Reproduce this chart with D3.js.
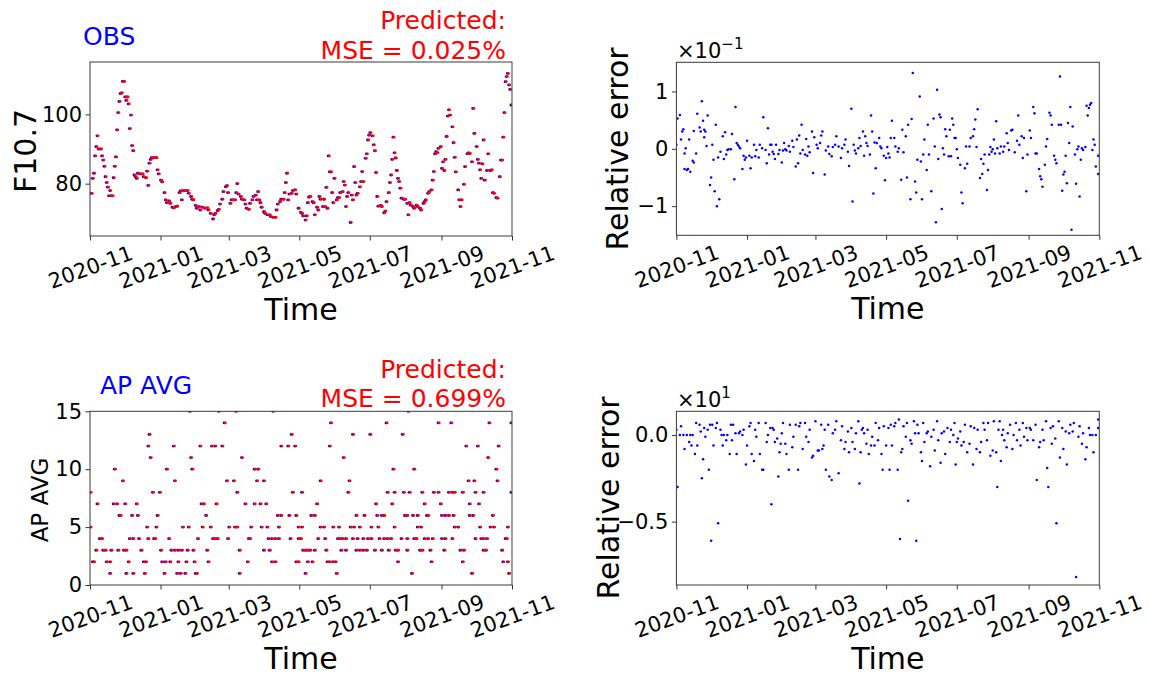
<!DOCTYPE html>
<html><head><meta charset="utf-8">
<script src="https://cdn.jsdelivr.net/npm/d3@7"></script>
<style>body{margin:0;background:#fff}svg{display:block}text{font-family:"DejaVu Sans",sans-serif}</style>
</head><body><svg id="c" width="1150" height="677"></svg>
<script>
// ---------- DATA ----------
// day offsets from 2020-11-01
const f107Day = [1,2,3,4,5,6,7,9,10,11, 12,13,14,15,16,17,18,19,20,21, 22,23,24,25,26,27,28,29,30,31,
 32,33,34,35,36,37,38,39,40,41, 43,45,46,48,49,50,51,52,53,55, 57,58,59,61,62,64,65,66,68,69,
 71,72,74,75,77,78,79,80,82,84, 85,87,88,89,91,92,94,95,97,99, 101,102,104,106,107,108,110,111,112,114,
 115,117,118,119,121,122,123,125,126,127, 128,130,131,133,134,135,137,138,140,141, 143,144,145,146,147,148,150,151,153,155,
 156,158,160,161,162,164,165,167,168,169, 170,171,172,174,175,177,178,180,182,183, 184,186,187,188,189,190,192,193,194,196,
 197,198,199,201,202,203,204,205,206,207, 208,209,210,211,213,214,215,216,218,219, 220,221,222,223,225,226,227,228,229,230,
 231,233,234,235,236,238,239,240,241,242, 244,245,246,247,248,249,251,252,254,255, 256,258,259,260,261,262,263,264,265,266,
 267,268,269,271,272,274,275,276,277,279, 280,282,283,285,286,288,289,290,292,293, 295,296,297,298,299,300,301,303,304,305,
 306,307,308,309,310,311,313,314,315,316, 318,319,320,321,323,324,326,327,328,330, 331,332,334,335,336,337,338,339,340,341,
 343,344,346,347,348,349,351,352,354,355, 356,357,358,359,360,361,362,363,364];
const f107Obs = [77.2,81.5,83,88,90.7,93.8,90,90,88,86.8, 85,82,80.3,79,76.5,78,76.5,76.5,81.7,85, 87.7,95.5,100.5,103.7,106,106.2,109.5,109.5,105,104,
 105,103,95.9,99.8,91,89.5,82.5,82,81.5,83, 82.8,82.8,82,81.7,83.6,79.5,85.9,87,87.5,87.5, 87.5,84,82.8,81,80.5,77.4,75.3,74.5,75,74.3,
 73.2,73,73.4,73.5,77.4,77.9,75.3,78,78,78, 77.2,76.3,75.5,75.3,73.7,72.9,73.4,72.4,73.2,72.9, 73,72.4,71.4,69.8,71,71.4,72.2,72.6,74.1,75.5,
 77.7,79.1,79.4,77.4,74.3,75.3,75.3,75.3,77.4,80, 77,76.3,75.5,75.3,74.1,72.9,72.6,74.3,75.3,76.3, 76.7,75.3,77.7,75.3,74.5,73.2,71.9,71.4,71,71,
 70.5,70.3,70.3,72.4,74.1,74.8,75.5,75.5,77.4,80.3, 83,75.3,77,77.2,78,78.2,77,72.9,71.7,71.4, 70.7,69.5,70.7,74.5,76.1,76.3,74.8,74.5,71,73.2,
 72.4,76.3,75.5,73.4,75.5,73.4,78.9,72.9,88,83.4, 83.4,77.4,74.5,81.5,75.3,76,76,77.4,77.7,80.6, 79.6,73.4,76.3,77.4,68.8,76.7,75.3,84.9,80.3,76.7,
 77.2,79.1,80.6,83.5,80.6,87.3,88.6,92.6,94,94.7, 93.8,91.2,89.5,83.2,76.3,73.5,73.7,73.4,71.6,72.1, 74.8,77.4,80.3,82.5,87,93.4,88.9,87.4,83.8,81.5,
 80.6,78.7,75.8,75.5,75.5,74.3,71,74.5,73.8,73.4, 72.9,73.8,73.4,72.9,72.4,74.3,74.8,75.3,77.2,77.7, 78.2,81,83.5,88.6,89.2,88.9,90.2,90.7,84.4,86.3,
 83.8,87,93.6,99.5,101.3,99.8,96.4,91.8,87.6,83.4, 78.2,75.3,73.4,75.3,79.8,84.9,88.6,88.9,88.7,86.3, 101.7,94.5,90.7,87,85.9,84,81.5,85.7,92.6,81,
 83.8,88.6,83.8,84,77.4,77.2,76,75.8,82,86.8, 86.8,93.4,100.5,109.4,110.9,111.8,108.5,107.2,102.7];
const f107Pred = f107Obs;          // red markers coincide with the blue ones in the picture
const predLagDays = 1;             // predicted markers sit one day to the right

const errF107Day = [0,1,3,4,5,6,7,7,8,9, 10,11,12,14,15,15,17,18,20,21, 22,23,24,24,25,26,27,29,30,31, 32,33,34,35,36,37,38,40,41,42,
 43,44,45,47,48,50,51,52,53,54, 55,57,58,59,60,61,63,64,65,67, 68,69,71,72,74,75,77,78,79,80, 81,82,83,84,85,86,88,89,91,92,
 93,94,95,97,98,100,101,103,104,105, 106,107,108,109,111,112,113,114,115,117, 118,119,121,122,124,125,126,128,129,131,
 132,134,135,137,138,140,142,143,145,146, 148,149,151,152,153,154,155,157,158,159, 161,162,163,164,165,167,168,169,170,171,
 172,173,175,176,177,179,180,181,182,183, 184,185,186,188,189,191,192,194,195,196, 198,199,200,202,203,204,206,207,208,210,
 211,212,213,214,216,217,218,220,222,223, 224,225,226,227,228,229,230,231,232,233, 235,236,237,238,239,240,241,242,243,245,
 246,247,249,250,251,253,254,256,257,258, 259,260,262,263,264,265,266,268,269,270, 271,272,273,274,275,276,277,279,280,282,
 283,285,286,287,289,290,292,294,295,296, 298,299,300,302,303,305,306,308,309,310, 311,313,314,315,316,318,319,320,322,323,
 324,326,327,328,330,331,332,333,334,335, 336,337,338,339,340,341,342,344,345,346, 347,348,349,350,351,353,354,355,356,357,
 358,359,360,361,362,364,364];
const errF107 = [.007,.053,.059,.016,.030,.034,-.035,-.008,.001,-.037, -.035,.016,-.040,-.021,-.024,.031,-.008,.061,.037,.030,
 .083,.049,.033,.020,.030,.005,.058,-.063,-.050,.007, -.019,-.074,.042,-.100,-.015,-.088,-.005,.022,-.018,.029,
 -.010,-.002,-.001,-.001,.026,-.053,.073,.010,.007,.004, .001,-.035,-.012,-.019,-.015,.014,-.012,-.034,-.015,.007,
 -.013,-.002,-.015,.007,.001,.055,-.002,-.025,.036,-.010, .007,.007,-.005,-.009,-.018,.007,-.009,-.002,-.024,-.003,
 .010,-.001,-.003,.005,-.005,.014,.003,-.031,.016,-.025, .023,-.008,.042,-.002,-.010,.017,-.012,.004,-.006,.030,
 -.042,.020,.007,.001,.010,.023,.030,-.045,-.003,.004, -.009,-.013,.003,.007,.022,.004,-.016,.001,.007,.016,
 -.005,-.030,.070,-.092,.007,-.003,-.008,.001,.019,.005, .030,-.012,.022,.010,.005,-.010,.058,.030,-.078,.011,
 -.034,.010,.019,.004,.001,-.012,-.055,-.016,.003,-.008, -.015,.019,.049,.019,.004,-.005,.001,-.054,.033,-.006,
 .022,-.050,.042,-.088,.052,.132,-.057,-.076,-.019,.091, -.022,-.088,-.010,.016,-.037,.042,-.010,-.074,.053,.004,
 -.128,.103,-.018,.060,.055,-.105,.001,-.010,.034,.022, -.013,.033,-.013,.053,.042,.019,.019,-.001,-.016,-.028,
 -.076,-.095,-.034,.004,-.026,.004,.019,.022,.034,.051, .003,.069,-.051,-.018,-.044,-.026,-.010,-.072,-.037,-.010,
 .003,-.005,-.001,.016,-.008,.048,.001,-.008,.004,-.005, .004,.027,.010,-.002,.032,.033,-.006,.014,.058,.007,
 .022,-.016,.019,-.074,-.010,.032,.019,.073,.062,-.008, -.008,-.035,-.048,-.053,-.066,-.028,.004,.017,.063,.058,
 .042,-.012,-.019,-.025,.042,.126,.042,-.073,-.045,-.040, -.012,-.060,.045,.010,.073,-.141,.039,-.010,-.061,-.001,
 .004,-.083,-.019,.001,-.002,.003,.075,.058,.071,.077, .080,-.002,.016,.007,-.031,-.012,-.044];

// AP AVG: for each level, the days on which it was observed
const apLevels = [15,14,13,12,11,10,9,8,7,6,5,4,3,2,1];
const apDays = [
 [86,111,126,158,275],
 [116,208,256,301,312,345,364],
 [51,174,227,242,270],
 [50,72,95,105,108,114,165,171,177,207,325,335,353],
 [52,87,131,219,344],
 [21,66,88,142,145,262,280,351],
 [28,73,118,124,144,150,199,224,327,332,352],
 [0,54,60,127,175,183,223,257,263,271,276,287,297,301,310,313,315,322,333,340,364],
 [6,20,23,30,40,96,98,109,134,142,147,152,196,247,261,289,303,328,336],
 [25,26,36,41,58,100,162,165,172,178,191,194,230,237,248,252,254,272,274,279,283,291,292,304,307,310,314,328,331,348],
 [0,49,57,80,85,97,104,120,125,127,139,148,153,163,180,183,199,202,210,215,225,228,233,243,249,263,283,286,315,318,337,346,349,361],
 [8,10,34,37,42,50,55,56,68,93,106,108,110,119,137,138,154,157,160,163,173,180,182,197,203,214,216,218,221,227,231,236,240,243,250,254,257,260,269,274,280,282,289,292,296,304,307,313,333,338,340,343,359,360],
 [5,11,13,18,24,29,31,44,61,70,73,76,79,84,89,101,129,150,155,184,186,188,190,194,204,217,221,230,233,236,239,246,252,258,264,266,274,285,287,294,306,320,323,340,342,356],
 [2,3,14,17,33,46,48,62,65,69,76,83,90,102,136,157,160,178,180,188,192,205,207,210,212,266,295,322,357,361],
 [17,31,37,47,64,75,78,82,91,92,129,186,213,278,330,362]
];

const errApDay = [0,1,3,4,6,7,9,11,12,13, 14,16,17,18,20,21,22,23,24,25, 27,28,29,30,31,32,34,35,36,38, 39,40,41,43,44,46,47,48,49,51,
 52,54,55,57,58,60,61,63,64,65, 67,68,69,71,72,74,75,77,78,79, 81,82,83,84,85,87,88,89,90,91, 92,94,95,97,98,100,101,103,105,106,
 107,109,111,112,114,115,117,118,120,122, 123,125,126,127,128,129,131,132,134,135, 137,138,140,142,143,145,146,148,149,151,
 152,154,155,157,158,159,160,161,162,164, 165,166,168,169,171,172,174,175,177,178, 179,181,183,184,185,186,188,189,191,192,
 193,194,195,196,198,199,200,202,203,205, 206,207,208,209,211,212,213,214,216,217, 219,220,222,223,225,226,228,229,231,232,
 234,236,237,239,240,241,242,243,245,246, 248,249,251,253,254,256,257,259,260,262, 263,265,266,268,269,271,273,274,276,277,
 278,279,280,281,282,283,285,286,288,290, 291,293,294,296,297,299,300,302,303,305, 306,308,310,311,313,314,316,317,319,320,
 321,323,324,325,327,328,330,331,333,334, 336,337,339,340,342,343,345,347,348,350, 351,353,354,356,357,359,360,362,364,364];
const errAp = [.3,-3,0,.5,0,-.8,0,-.4,0,-.6, 0,-1.1,.7,-.6,.6,.2,-2.5,-1.4,.4,-.1, .3,-2,.6,-6.1,.6,-.6,.4,.7,-5.1,.3,
 0,-.6,0,-.3,0,-1.1,.6,-.3,.6,.1, -1.1,.1,.2,0,.3,-1.7,-.6,.5,.7,-1.1, -1.5,.3,-.1,.7,-1.1,-2,-2,.7,-.4,0,
 .4,-4,.4,.3,-.4,-.2,-2.4,-1,-.5,.1, .7,-.5,-1.1,-2,.6,-.7,-.1,.6,-2,.5, .7,-.8,.7,-.1,-.4,.3,-1.3,-1.2,.8,-.9,
 -.9,.6,-.8,-.6,.3,-2,.6,-2.4,-2.6,.1, .3,.8,-2.2,-.3,.5,-.8,-.4,.2,-1,.4, -.4,-.8,.1,.8,-2.8,-1,.3,.4,.1,-.5,
 .3,-1.1,-.6,-.1,-.6,.7,-.3,.4,-1.1,-2, .5,-.6,.4,-2,.6,-.6,.5,.7,-2,.9, -6,-1,-.8,.5,-.1,.7,-3.8,-.3,-.5,.8,
 .1,-6.1,.6,.1,-1,-1.5,.7,-.4,.1,.2, -1.8,-.1,.3,-.9,.8,-.3,-1.6,.1,.2,-1.1, .4,-.4,.3,0,.7,-1.7,-.4,-.2,.2,-.6,
 -.4,.6,-1,-.5,.5,-1.7,.4,-.8,.3,-1, -.4,.7,.3,-.3,.7,-1.2,-.9,.8,-1,-3, .3,.8,-1.5,0,.3,-.3,-.7,.1,.6,-.8,
 0,.7,-.3,.3,-.6,.7,-.1,.4,-.3,.4, .3,-.3,.6,-2.6,-.7,-.4,.3,-.3,.8,-1.9, -3,.4,-.5,.5,-.2,-5.1,.8,-1.3,.4,-.8,
 .2,-1.7,.1,.6,.2,.7,-8.2,-.1,.5,-.5, .1,-1.4,-.7,.4,0,0,-1,0,.9,.4];

const xTickFmt = "%Y-%m";
// ---------- DRAWING ----------
const svg = d3.select("#c");
const t0 = new Date(Date.UTC(2020,10,1)), t1 = new Date(Date.UTC(2021,10,1));
const dayDate = d => d3.utcDay.offset(t0, d);
const BLUE = "#0000ff", RED = "#ff0000";
const FONT = '"DejaVu Sans", sans-serif';

function panel(o){
  const x = d3.scaleUtc().domain([t0,t1]).range([o.x0,o.x1]);
  const y = d3.scaleLinear().domain(o.yd).range([o.y1,o.y0]);
  svg.append("clipPath").attr("id","clip"+o.id).append("rect")
     .attr("x",o.x0).attr("y",o.y0).attr("width",o.x1-o.x0).attr("height",o.y1-o.y0);
  const g = svg.append("g");
  const marks = g.append("g").attr("clip-path",`url(#clip${o.id})`);

  const xa = g.append("g").attr("transform",`translate(0,${o.y1})`)
    .call(d3.axisBottom(x).tickValues(d3.utcMonth.every(2).range(t0, new Date(+t1+1)))
      .tickFormat(d3.utcFormat(xTickFmt)).tickSize(4.5).tickSizeOuter(0));
  xa.attr("font-size",21).attr("font-family",FONT);
  xa.select(".domain").remove();
  xa.selectAll(".tick line").attr("stroke","#333");
  xa.selectAll(".tick text").attr("y",0).attr("dy","0.35em").attr("fill","#000")
    .attr("text-anchor","middle").attr("transform","translate(0,31) rotate(-20)");

  const ya = g.append("g").attr("transform",`translate(${o.x0},0)`)
    .call(d3.axisLeft(y).tickValues(o.yt).tickFormat(o.yf).tickSize(4.5).tickPadding(3.5).tickSizeOuter(0));
  ya.attr("font-size",21).attr("font-family",FONT);
  ya.select(".domain").remove();
  ya.selectAll(".tick line").attr("stroke","#333");
  ya.selectAll(".tick text").attr("fill","#000");

  g.append("rect").attr("x",o.x0).attr("y",o.y0).attr("width",o.x1-o.x0).attr("height",o.y1-o.y0)
    .attr("fill","none").attr("stroke","#3a3a3a").attr("stroke-width",1);

  g.append("text").attr("x",(o.x0+o.x1)/2).attr("y",o.y1+84).attr("text-anchor","middle")
    .attr("font-size",30).text("Time");
  g.append("text").attr("transform",`translate(${o.ylx},${o.yly}) rotate(-90)`).attr("text-anchor","middle")
    .attr("font-size",o.ylfs).text(o.yl);
  return {x,y,marks};
}
const minus = s => s.replace("-","\u2212");

// Panel 1: F10.7
const p1 = panel({id:1,x0:90,x1:512,y0:62,y1:236,yd:[64.9,115.1],yt:[80,100],yf:d3.format("d"),
  yl:"F10.7",ylx:35.5,yly:151,ylfs:30});
p1.marks.selectAll(".o").data(f107Day).join("circle").attr("cx",d=>p1.x(dayDate(d)))
  .attr("cy",(d,i)=>p1.y(f107Obs[i])).attr("r",1.4).attr("fill",BLUE);
p1.marks.selectAll(".p").data(f107Day).join("circle").attr("cx",d=>p1.x(dayDate(d+predLagDays)))
  .attr("cy",(d,i)=>p1.y(f107Pred[i])).attr("r",1.4).attr("fill",RED);

// Panel 2: relative error F10.7
const p2 = panel({id:2,x0:676.4,x1:1099.3,y0:62.3,y1:235.3,yd:[-0.1508,0.1508],yt:[-0.1,0,0.1],
  yf:d=>minus(d3.format("d")(Math.round(d*10))),yl:"Relative error",ylx:628,yly:149,ylfs:30});
p2.marks.selectAll("circle").data(errF107Day).join("circle").attr("cx",d=>p2.x(dayDate(d)))
  .attr("cy",(d,i)=>p2.y(errF107[i])).attr("r",1.25).attr("fill",BLUE);

// Panel 3: AP AVG
const p3 = panel({id:3,x0:90,x1:512,y0:411.3,y1:585,yd:[0,15],yt:[0,5,10,15],yf:d3.format("d"),
  yl:"AP AVG",ylx:48.3,yly:500,ylfs:23});
const apPts = apLevels.flatMap((lv,k)=>apDays[k].map(d=>({d,lv})));
p3.marks.selectAll(".o").data(apPts).join("circle").attr("cx",p=>p3.x(dayDate(p.d)))
  .attr("cy",p=>p3.y(p.lv)).attr("r",1.4).attr("fill",BLUE);
p3.marks.selectAll(".p").data(apPts).join("circle").attr("cx",p=>p3.x(dayDate(p.d+predLagDays)))
  .attr("cy",p=>p3.y(p.lv)).attr("r",1.4).attr("fill",RED);

// Panel 4: relative error AP
const p4 = panel({id:4,x0:676.4,x1:1099.3,y0:411.3,y1:585,yd:[-8.66,1.37],yt:[-5,0],
  yf:d=>minus(d3.format(".1f")(d/10)),yl:"Relative error",ylx:619,yly:498,ylfs:30});
p4.marks.selectAll("circle").data(errApDay).join("circle").attr("cx",d=>p4.x(dayDate(d)))
  .attr("cy",(d,i)=>p4.y(errAp[i])).attr("r",1.25).attr("fill",BLUE);

// Titles / annotations
function txt(x,y,s,fill,anchor,fs){svg.append("text").attr("x",x).attr("y",y).attr("fill",fill)
  .attr("text-anchor",anchor).attr("font-size",fs).text(s);}
txt(83,45,"OBS",BLUE,"start",25);
txt(506,29.3,"Predicted:",RED,"end",25);
txt(506,59.3,"MSE = 0.025%",RED,"end",25);
txt(100,394.3,"AP AVG",BLUE,"start",25);
txt(506,378,"Predicted:",RED,"end",25);
txt(506,407.3,"MSE = 0.699%",RED,"end",25);

function offsetText(x,y,exp){
  const t = svg.append("text").attr("x",x).attr("y",y).attr("font-size",21);
  t.append("tspan").text("\u00d710");
  t.append("tspan").attr("font-size",15).attr("dy",-9).text(exp);
}
offsetText(677,58.3,"\u22121");
offsetText(677,406.7,"1");
</script></body></html>
